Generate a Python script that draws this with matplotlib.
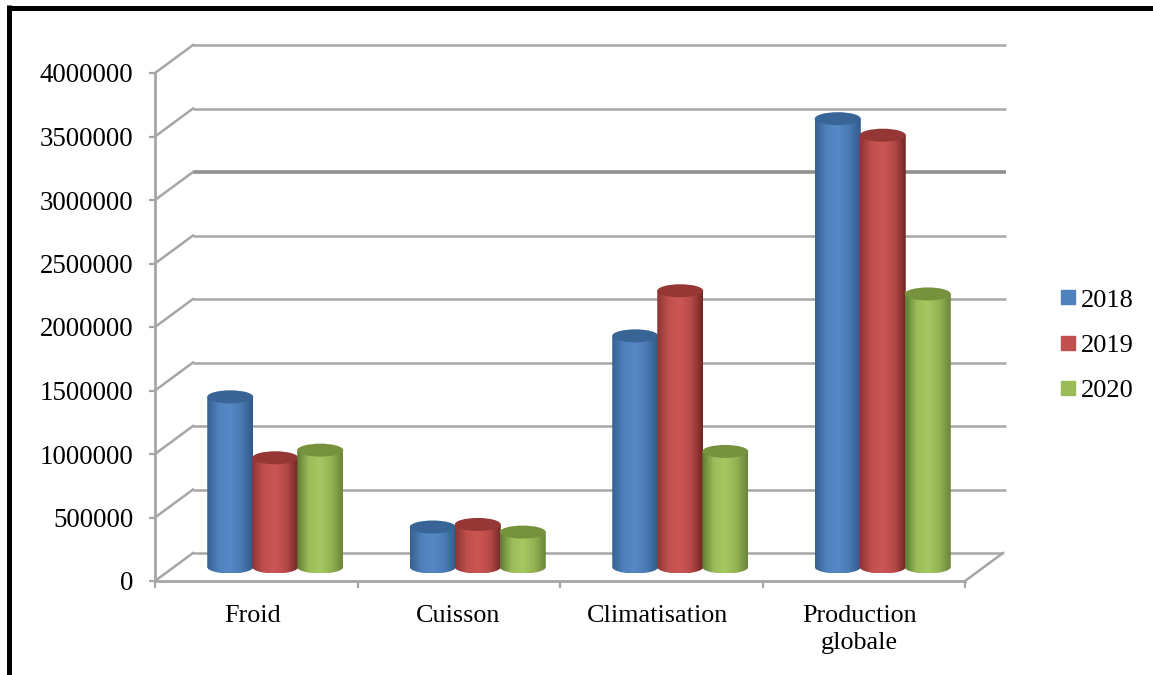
import numpy as np
import matplotlib
matplotlib.use("Agg")
import matplotlib.pyplot as plt
from matplotlib.colors import LinearSegmentedColormap
from matplotlib.lines import Line2D
from matplotlib.patches import Ellipse, PathPatch
from matplotlib.path import Path
from matplotlib.transforms import ScaledTranslation

categories = ["Froid", "Cuisson", "Climatisation", "Production\nglobale"]
years = ["2018", "2019", "2020"]
values_2018 = [1340000, 315000, 1820000, 3530000]
values_2019 = [860000, 335000, 2175000, 3400000]
values_2020 = [920000, 275000, 910000, 2150000]
y_ticks = [0, 500000, 1000000, 1500000, 2000000, 2500000, 3000000, 3500000, 4000000]

W, H = 1153, 675
GREY = "#a6a6a6"
COLORS = {
    "2018": ["#36608f", "#4f81bd", "#5688c6", "#4a7ab4", "#2f5a8a"],
    "2019": ["#8a3634", "#c0504d", "#cd5654", "#b54a48", "#702523"],
    "2020": ["#5f7a34", "#9bbb59", "#a6c860", "#93b254", "#6a8539"],
}
TOPS = {"2018": "#386496", "2019": "#953735", "2020": "#76923c"}
LEGEND = {"2018": "#4f81bd", "2019": "#c0504d", "2020": "#9bbb59"}

plt.rcParams["font.family"] = ["Liberation Serif", "DejaVu Serif"]

fig = plt.figure(figsize=(W / 100, H / 100), dpi=100)
ax = fig.add_axes([155 / W, 1 - 581 / H, 810 / W, 508 / H])

# pixels -> unites de donnees
px_x = 4 / 810
px_y = 4000000 / 508
depth_x = 38 * px_x
depth_y = 28 * px_y


def draw_walls(ax):
    """Grille du fond, mur gauche et sol."""
    x0, x1 = -0.5, 3.5
    for v in y_ticks:
        lw = 2.6 if v == 3000000 else 1.8
        col = "#8f8f8f" if v == 3000000 else GREY
        end = x1 + depth_x + (0 if v == 0 else 3 * px_x)
        ax.plot([x0 + depth_x, end], [v + depth_y, v + depth_y], color=col, lw=lw,
                clip_on=False, zorder=1, solid_capstyle="butt")
        ax.plot([x0, x0 + depth_x], [v, v + depth_y], color=GREY, lw=1.8, clip_on=False, zorder=1)
    ax.plot([x1, x1 + depth_x], [0, depth_y], color=GREY, lw=1.8, clip_on=False, zorder=1)


def draw_cylinder(ax, center, value, year):
    """Un cylindre avec degrade horizontal."""
    half_w = 23 * px_x
    ry = 6.5 * px_y
    y_base = depth_y / 2
    y_top = y_base + value
    t = np.linspace(np.pi, 2 * np.pi, 40)
    bottom = np.column_stack([center + half_w * np.cos(t), y_base + ry * np.sin(t)])
    verts = np.vstack([[[center - half_w, y_top]], bottom, [[center + half_w, y_top]], [[center - half_w, y_top]]])
    codes = [Path.MOVETO] + [Path.LINETO] * (len(verts) - 2) + [Path.CLOSEPOLY]
    body = PathPatch(Path(verts, codes), facecolor="none", edgecolor="none", zorder=3)
    ax.add_patch(body)
    cmap = LinearSegmentedColormap.from_list(year, COLORS[year])
    im = ax.imshow(np.linspace(0, 1, 128).reshape(1, -1), cmap=cmap, aspect="auto", zorder=3,
                   extent=[center - half_w, center + half_w, y_base - ry, y_top], interpolation="bilinear")
    im.set_clip_path(body)
    ax.add_patch(Ellipse((center, y_top), 2 * half_w, 2 * ry, facecolor=TOPS[year], edgecolor="none",
                         zorder=3, clip_on=False))


draw_walls(ax)

series = [values_2018, values_2019, values_2020]
for i in range(len(categories)):
    for j, year in enumerate(years):
        center = i + depth_x / 2 + (j - 1) * 45 * px_x
        draw_cylinder(ax, center, series[j][i], year)

ax.set_xlim(-0.5, 3.5)
ax.set_ylim(0, 4000000)
for side in ["top", "right"]:
    ax.spines[side].set_visible(False)
for side in ["left", "bottom"]:
    ax.spines[side].set_color(GREY)
    ax.spines[side].set_linewidth(2)
    ax.spines[side].set_zorder(2)

ax.set_yticks(y_ticks)
ax.set_yticklabels([str(v) for v in y_ticks])
ax.tick_params(axis="y", length=4.5, width=1.6, color=GREY, pad=11, labelsize=19.4)
ax.set_xticks(range(len(categories)))
ax.set_xticklabels(categories, linespacing=1.3)
ax.set_xticks(np.arange(-0.5, 4, 1), minor=True)
ax.tick_params(axis="x", which="major", length=0, pad=17, labelsize=18.8)
ax.tick_params(axis="x", which="minor", length=5, width=1.6, color=GREY)
# etiquettes un peu a gauche du centre
for label, dx in zip(ax.get_xticklabels(), [-4, -1, -4, -4]):
    label.set_transform(label.get_transform() + ScaledTranslation(dx / 100, 0, fig.dpi_scale_trans))

handles = [Line2D([], [], linestyle="none", marker="s", markersize=10, color=LEGEND[y]) for y in years]
fig.legend(handles, years, frameon=False, fontsize=19, loc="center left",
           bbox_to_anchor=(1055 / W, 1 - 345 / H), labelspacing=0.82, handletextpad=-0.03,
           handlelength=1.0, borderpad=0, borderaxespad=0)

# cadre noir de la capture
fig.add_artist(Line2D([9 / W, 9 / W], [0, 1 - 5 / H], color="black", lw=3.6, solid_capstyle="butt"))
fig.add_artist(Line2D([7 / W, 1], [1 - 7.5 / H, 1 - 7.5 / H], color="black", lw=3.6, solid_capstyle="butt"))

fig.savefig("out.png", dpi=100)
